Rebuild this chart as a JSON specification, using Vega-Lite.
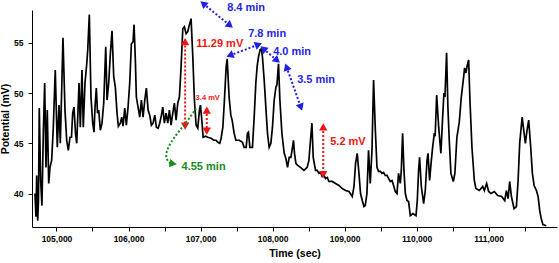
{
  "$schema": "https://vega.github.io/schema/vega-lite/v6.json",
  "width": 525,
  "height": 217,
  "autosize": {"type": "none"},
  "padding": {"left": 32, "top": 10, "right": 2, "bottom": 36},
  "background": "white",
  "config": {
    "view": {"stroke": null},
    "font": "Liberation Sans",
    "axis": {
      "domainColor": "black", "tickColor": "black", "labelColor": "black", "titleColor": "black",
      "grid": false, "labelFont": "Liberation Sans", "titleFont": "Liberation Sans",
      "labelFontWeight": "bold", "titleFontWeight": "bold", "domainWidth": 1, "tickWidth": 1
    }
  },
  "layer": [
    {
      "data": {"values": [
        {"t":104701,"v":40.0},{"t":104715,"v":37.7},{"t":104725,"v":41.8},{"t":104739,"v":37.3},{"t":104750,"v":39.3},{"t":104761,"v":48.5},{"t":104780,"v":41.3},{"t":104798,"v":38.8},{"t":104817,"v":46.0},{"t":104836,"v":51.0},{"t":104854,"v":42.6},{"t":104872,"v":48.3},{"t":104892,"v":41.0},{"t":104910,"v":42.6},{"t":104933,"v":43.3},{"t":104956,"v":46.6},{"t":104983,"v":52.3},{"t":105011,"v":44.6},{"t":105035,"v":48.8},{"t":105053,"v":45.0},{"t":105072,"v":50.3},{"t":105090,"v":55.5},{"t":105118,"v":48.3},{"t":105142,"v":45.3},{"t":105164,"v":44.3},{"t":105188,"v":45.6},{"t":105208,"v":45.6},{"t":105225,"v":48.0},{"t":105243,"v":48.6},{"t":105264,"v":46.0},{"t":105281,"v":45.0},{"t":105299,"v":48.3},{"t":105313,"v":51.0},{"t":105331,"v":46.6},{"t":105354,"v":52.3},{"t":105372,"v":46.6},{"t":105396,"v":51.0},{"t":105420,"v":52.9},{"t":105434,"v":54.3},{"t":105456,"v":57.8},{"t":105479,"v":49.6},{"t":105503,"v":47.0},{"t":105521,"v":46.1},{"t":105535,"v":48.6},{"t":105553,"v":50.5},{"t":105570,"v":48.0},{"t":105586,"v":48.3},{"t":105609,"v":46.3},{"t":105632,"v":47.0},{"t":105656,"v":49.0},{"t":105684,"v":54.6},{"t":105702,"v":49.3},{"t":105725,"v":51.0},{"t":105748,"v":53.9},{"t":105771,"v":56.2},{"t":105795,"v":51.6},{"t":105817,"v":50.6},{"t":105841,"v":48.0},{"t":105859,"v":46.7},{"t":105887,"v":47.0},{"t":105906,"v":47.6},{"t":105924,"v":46.7},{"t":105948,"v":48.5},{"t":105970,"v":46.8},{"t":105994,"v":48.6},{"t":106017,"v":51.0},{"t":106040,"v":54.9},{"t":106063,"v":55.1},{"t":106077,"v":56.8},{"t":106095,"v":53.3},{"t":106109,"v":49.6},{"t":106133,"v":48.6},{"t":106156,"v":47.6},{"t":106179,"v":49.3},{"t":106202,"v":47.6},{"t":106226,"v":49.3},{"t":106248,"v":50.5},{"t":106272,"v":48.3},{"t":106295,"v":47.8},{"t":106318,"v":46.8},{"t":106341,"v":47.0},{"t":106365,"v":47.8},{"t":106387,"v":46.6},{"t":106411,"v":46.5},{"t":106434,"v":47.0},{"t":106457,"v":47.8},{"t":106476,"v":48.6},{"t":106498,"v":47.0},{"t":106522,"v":48.0},{"t":106545,"v":47.0},{"t":106568,"v":48.3},{"t":106591,"v":46.8},{"t":106615,"v":48.0},{"t":106637,"v":49.0},{"t":106661,"v":47.3},{"t":106684,"v":49.0},{"t":106707,"v":49.6},{"t":106730,"v":52.6},{"t":106754,"v":56.4},{"t":106776,"v":56.6},{"t":106800,"v":55.9},{"t":106823,"v":56.1},{"t":106846,"v":56.8},{"t":106869,"v":57.4},{"t":106893,"v":53.6},{"t":106915,"v":49.3},{"t":106939,"v":46.8},{"t":106962,"v":46.5},{"t":106985,"v":48.3},{"t":106999,"v":48.8},{"t":107018,"v":47.3},{"t":107036,"v":45.6},{"t":107068,"v":45.7},{"t":107101,"v":45.6},{"t":107147,"v":45.5},{"t":107185,"v":45.3},{"t":107217,"v":45.3},{"t":107240,"v":45.1},{"t":107268,"v":45.0},{"t":107286,"v":45.5},{"t":107310,"v":46.6},{"t":107332,"v":49.3},{"t":107356,"v":52.6},{"t":107370,"v":53.4},{"t":107397,"v":49.6},{"t":107421,"v":47.8},{"t":107439,"v":47.3},{"t":107467,"v":46.0},{"t":107491,"v":45.3},{"t":107537,"v":45.3},{"t":107582,"v":45.1},{"t":107606,"v":44.6},{"t":107634,"v":44.6},{"t":107652,"v":46.0},{"t":107666,"v":46.1},{"t":107685,"v":44.6},{"t":107721,"v":44.6},{"t":107745,"v":47.6},{"t":107768,"v":51.0},{"t":107787,"v":52.7},{"t":107805,"v":53.6},{"t":107828,"v":54.3},{"t":107846,"v":54.4},{"t":107860,"v":53.6},{"t":107884,"v":51.3},{"t":107907,"v":48.6},{"t":107930,"v":46.0},{"t":107953,"v":44.6},{"t":107977,"v":45.0},{"t":107999,"v":46.6},{"t":108023,"v":49.3},{"t":108047,"v":50.6},{"t":108061,"v":50.8},{"t":108071,"v":51.8},{"t":108083,"v":52.9},{"t":108102,"v":49.3},{"t":108130,"v":46.0},{"t":108162,"v":44.0},{"t":108185,"v":43.5},{"t":108208,"v":42.6},{"t":108231,"v":43.6},{"t":108255,"v":43.6},{"t":108277,"v":44.6},{"t":108291,"v":45.3},{"t":108305,"v":44.0},{"t":108324,"v":43.0},{"t":108349,"v":42.8},{"t":108388,"v":42.6},{"t":108436,"v":42.3},{"t":108481,"v":42.6},{"t":108505,"v":43.3},{"t":108527,"v":45.3},{"t":108547,"v":47.0},{"t":108565,"v":43.6},{"t":108597,"v":42.3},{"t":108620,"v":42.3},{"t":108644,"v":42.0},{"t":108666,"v":42.1},{"t":108690,"v":41.7},{"t":108714,"v":41.8},{"t":108736,"v":41.5},{"t":108760,"v":41.6},{"t":108783,"v":41.2},{"t":108829,"v":41.2},{"t":108875,"v":41.0},{"t":108922,"v":40.8},{"t":108968,"v":40.5},{"t":109014,"v":40.3},{"t":109061,"v":40.2},{"t":109107,"v":39.7},{"t":109131,"v":40.7},{"t":109153,"v":43.0},{"t":109176,"v":44.0},{"t":109200,"v":42.0},{"t":109222,"v":40.0},{"t":109246,"v":39.3},{"t":109269,"v":38.7},{"t":109287,"v":38.8},{"t":109311,"v":40.0},{"t":109333,"v":44.3},{"t":109357,"v":41.0},{"t":109381,"v":44.3},{"t":109403,"v":51.3},{"t":109426,"v":46.6},{"t":109450,"v":42.6},{"t":109472,"v":42.2},{"t":109496,"v":42.2},{"t":109520,"v":42.0},{"t":109542,"v":42.1},{"t":109565,"v":41.8},{"t":109589,"v":41.8},{"t":109611,"v":41.5},{"t":109635,"v":41.2},{"t":109659,"v":41.3},{"t":109681,"v":40.8},{"t":109705,"v":40.2},{"t":109728,"v":40.0},{"t":109750,"v":42.0},{"t":109774,"v":41.0},{"t":109788,"v":42.3},{"t":109806,"v":46.0},{"t":109825,"v":42.3},{"t":109844,"v":40.0},{"t":109867,"v":39.3},{"t":109889,"v":39.2},{"t":109913,"v":37.8},{"t":109950,"v":38.0},{"t":109992,"v":37.8},{"t":110010,"v":39.3},{"t":110028,"v":42.3},{"t":110042,"v":43.6},{"t":110066,"v":40.7},{"t":110098,"v":39.0},{"t":110121,"v":40.3},{"t":110145,"v":43.3},{"t":110159,"v":44.0},{"t":110181,"v":41.3},{"t":110205,"v":43.3},{"t":110223,"v":44.6},{"t":110247,"v":46.0},{"t":110258,"v":45.7},{"t":110279,"v":49.8},{"t":110307,"v":46.6},{"t":110338,"v":44.0},{"t":110362,"v":47.6},{"t":110380,"v":50.0},{"t":110394,"v":49.6},{"t":110417,"v":54.0},{"t":110435,"v":48.6},{"t":110454,"v":45.3},{"t":110477,"v":42.0},{"t":110510,"v":41.2},{"t":110532,"v":42.0},{"t":110560,"v":45.6},{"t":110593,"v":47.1},{"t":110621,"v":49.6},{"t":110649,"v":51.3},{"t":110667,"v":52.5},{"t":110685,"v":52.0},{"t":110705,"v":52.8},{"t":110723,"v":53.3},{"t":110741,"v":49.3},{"t":110769,"v":44.6},{"t":110802,"v":41.3},{"t":110824,"v":40.5},{"t":110872,"v":40.3},{"t":110918,"v":40.7},{"t":110941,"v":40.3},{"t":110973,"v":41.0},{"t":111001,"v":40.2},{"t":111034,"v":40.0},{"t":111080,"v":40.2},{"t":111126,"v":39.8},{"t":111182,"v":39.7},{"t":111224,"v":39.3},{"t":111247,"v":40.3},{"t":111271,"v":39.5},{"t":111293,"v":41.2},{"t":111317,"v":39.7},{"t":111354,"v":38.5},{"t":111386,"v":38.7},{"t":111410,"v":41.3},{"t":111432,"v":45.0},{"t":111466,"v":47.6},{"t":111488,"v":46.3},{"t":111511,"v":45.0},{"t":111534,"v":46.3},{"t":111557,"v":47.3},{"t":111585,"v":44.6},{"t":111608,"v":42.0},{"t":111632,"v":40.8},{"t":111664,"v":40.3},{"t":111688,"v":39.7},{"t":111710,"v":38.3},{"t":111731,"v":37.5},{"t":111755,"v":36.9},{"t":111801,"v":36.8}
      ]},
      "mark": {"type": "line", "color": "black", "strokeWidth": 1.7, "clip": true},
      "encoding": {
        "x": {"field": "t", "type": "quantitative",
          "scale": {"domain": [104660, 111950], "nice": false, "zero": false},
          "axis": {"title": "Time (sec)", "values": [105000,105500,106000,106500,107000,107500,108000,108500,109000,109500,110000,110500,111000,111500],
            "labelExpr": "datum.value % 1000 === 0 ? format(datum.value, ',') : ''",
            "labelOverlap": false, "labelFlush": false, "tickSize": 4, "labelPadding": 3,
            "labelFontSize": 8.5, "titleFontSize": 10.5, "titlePadding": 6}},
        "y": {"field": "v", "type": "quantitative",
          "scale": {"domain": [36.67, 58.26], "nice": false, "zero": false},
          "axis": {"title": "Potential (mV)", "values": [40, 45, 50, 55], "format": "d",
            "labelOverlap": false, "labelFlush": false, "tickSize": 4, "labelPadding": 5,
            "labelFontSize": 8.5, "titleFontSize": 10.5, "titlePadding": 3}}
      }
    },
    {
      "data": {"values": [
        {"t": 106786, "v": 55.12, "bot": 46.70},
        {"t": 107087, "v": 48.30, "bot": 46.21},
        {"t": 108704, "v": 46.63, "bot": 41.89}
      ]},
      "layer": [
        {"mark": {"type": "rule", "color": "#f01414", "strokeWidth": 2, "strokeDash": [2, 2]},
         "encoding": {"x": {"field": "t", "type": "quantitative"}, "y": {"field": "v", "type": "quantitative"}, "y2": {"field": "bot"}}},
        {"mark": {"type": "point", "shape": "triangle-up", "filled": true, "color": "#f01414", "size": 70, "opacity": 1},
         "encoding": {"x": {"field": "t", "type": "quantitative"}, "y": {"field": "v", "type": "quantitative"}}},
        {"mark": {"type": "point", "shape": "triangle-down", "filled": true, "color": "#f01414", "size": 70, "opacity": 1},
         "encoding": {"x": {"field": "t", "type": "quantitative"}, "y": {"field": "bot", "type": "quantitative"}}}
      ]
    },
    {
      "data": {"values": [{"t": 107037, "v": 58.90, "t2": 107410, "v2": 56.71}]},
      "layer": [
        {"mark": {"type": "rule", "color": "#1f1fe8", "strokeWidth": 2, "strokeDash": [2, 2]},
         "encoding": {"x": {"field": "t", "type": "quantitative"}, "y": {"field": "v", "type": "quantitative"}, "x2": {"field": "t2"}, "y2": {"field": "v2"}}},
        {"mark": {"type": "point", "shape": "triangle-right", "filled": true, "color": "#1f1fe8", "size": 70, "opacity": 1, "angle": 219.3},
         "encoding": {"x": {"field": "t", "type": "quantitative"}, "y": {"field": "v", "type": "quantitative"}}},
        {"mark": {"type": "point", "shape": "triangle-right", "filled": true, "color": "#1f1fe8", "size": 70, "opacity": 1, "angle": 39.3},
         "encoding": {"x": {"field": "t2", "type": "quantitative"}, "y": {"field": "v2", "type": "quantitative"}}}
      ]
    },
    {
      "data": {"values": [{"t": 107407, "v": 53.73, "t2": 107805, "v2": 54.82}]},
      "layer": [
        {"mark": {"type": "rule", "color": "#1f1fe8", "strokeWidth": 2, "strokeDash": [2, 2]},
         "encoding": {"x": {"field": "t", "type": "quantitative"}, "y": {"field": "v", "type": "quantitative"}, "x2": {"field": "t2"}, "y2": {"field": "v2"}}},
        {"mark": {"type": "point", "shape": "triangle-right", "filled": true, "color": "#1f1fe8", "size": 70, "opacity": 1, "angle": 158.7},
         "encoding": {"x": {"field": "t", "type": "quantitative"}, "y": {"field": "v", "type": "quantitative"}}},
        {"mark": {"type": "point", "shape": "triangle-right", "filled": true, "color": "#1f1fe8", "size": 70, "opacity": 1, "angle": -21.3},
         "encoding": {"x": {"field": "t2", "type": "quantitative"}, "y": {"field": "v2", "type": "quantitative"}}}
      ]
    },
    {
      "data": {"values": [{"t": 107870, "v": 54.41, "t2": 108064, "v2": 53.24}]},
      "layer": [
        {"mark": {"type": "rule", "color": "#1f1fe8", "strokeWidth": 2, "strokeDash": [2, 2]},
         "encoding": {"x": {"field": "t", "type": "quantitative"}, "y": {"field": "v", "type": "quantitative"}, "x2": {"field": "t2"}, "y2": {"field": "v2"}}},
        {"mark": {"type": "point", "shape": "triangle-right", "filled": true, "color": "#1f1fe8", "size": 70, "opacity": 1, "angle": 220.4},
         "encoding": {"x": {"field": "t", "type": "quantitative"}, "y": {"field": "v", "type": "quantitative"}}},
        {"mark": {"type": "point", "shape": "triangle-right", "filled": true, "color": "#1f1fe8", "size": 70, "opacity": 1, "angle": 40.4},
         "encoding": {"x": {"field": "t2", "type": "quantitative"}, "y": {"field": "v2", "type": "quantitative"}}}
      ]
    },
    {
      "data": {"values": [{"t": 108194, "v": 52.60, "t2": 108394, "v2": 48.58}]},
      "layer": [
        {"mark": {"type": "rule", "color": "#1f1fe8", "strokeWidth": 2, "strokeDash": [2, 2]},
         "encoding": {"x": {"field": "t", "type": "quantitative"}, "y": {"field": "v", "type": "quantitative"}, "x2": {"field": "t2"}, "y2": {"field": "v2"}}},
        {"mark": {"type": "point", "shape": "triangle-right", "filled": true, "color": "#1f1fe8", "size": 70, "opacity": 1, "angle": 250.5},
         "encoding": {"x": {"field": "t", "type": "quantitative"}, "y": {"field": "v", "type": "quantitative"}}},
        {"mark": {"type": "point", "shape": "triangle-right", "filled": true, "color": "#1f1fe8", "size": 70, "opacity": 1, "angle": 70.5},
         "encoding": {"x": {"field": "t2", "type": "quantitative"}, "y": {"field": "v2", "type": "quantitative"}}}
      ]
    },
    {
      "data": {"values": [
        {"t": 106939, "v": 48.49}, {"t": 106828, "v": 47.30}, {"t": 106689, "v": 46.10},
        {"t": 106577, "v": 45.00}, {"t": 106522, "v": 44.11}, {"t": 106522, "v": 43.41}, {"t": 106577, "v": 43.01}
      ]},
      "mark": {"type": "line", "color": "#1a8c1a", "strokeWidth": 2, "strokeDash": [2, 2], "interpolate": "basis"},
      "encoding": {"x": {"field": "t", "type": "quantitative"}, "y": {"field": "v", "type": "quantitative"}, "order": {"value": null}}
    },
    {
      "data": {"values": [{"t": 106619, "v": 42.97}]},
      "mark": {"type": "point", "shape": "triangle-right", "filled": true, "color": "#1a8c1a", "size": 70, "opacity": 1, "angle": 8},
      "encoding": {"x": {"field": "t", "type": "quantitative"}, "y": {"field": "v", "type": "quantitative"}}
    },
    {
      "data": {"values": [
        {"t": 107370, "v": 58.46, "label": "8.4 min", "kind": "blue"},
        {"t": 107662, "v": 55.92, "label": "7.8 min", "kind": "blue"},
        {"t": 108009, "v": 54.12, "label": "4.0 min", "kind": "blue"},
        {"t": 108342, "v": 51.28, "label": "3.5 min", "kind": "blue"},
        {"t": 106939, "v": 54.92, "label": "11.29 mV", "kind": "red"},
        {"t": 108801, "v": 45.14, "label": "5.2 mV", "kind": "red"},
        {"t": 106737, "v": 42.65, "label": "4.55 min", "kind": "green"}
      ]},
      "mark": {"type": "text", "align": "left", "baseline": "middle", "fontSize": 11, "fontWeight": "bold", "font": "Liberation Sans"},
      "encoding": {
        "x": {"field": "t", "type": "quantitative"},
        "y": {"field": "v", "type": "quantitative"},
        "text": {"field": "label"},
        "color": {"field": "kind", "type": "nominal", "scale": {"domain": ["blue", "red", "green"], "range": ["#1f1fe8", "#f01414", "#1a8c1a"]}, "legend": null}
      }
    },
    {
      "data": {"values": [{"t": 106932, "v": 49.46, "label": "3.4 mV"}]},
      "mark": {"type": "text", "align": "left", "baseline": "middle", "fontSize": 7.5, "fontWeight": "bold", "font": "Liberation Sans", "color": "#f01414"},
      "encoding": {
        "x": {"field": "t", "type": "quantitative"},
        "y": {"field": "v", "type": "quantitative"},
        "text": {"field": "label"}
      }
    }
  ]
}
